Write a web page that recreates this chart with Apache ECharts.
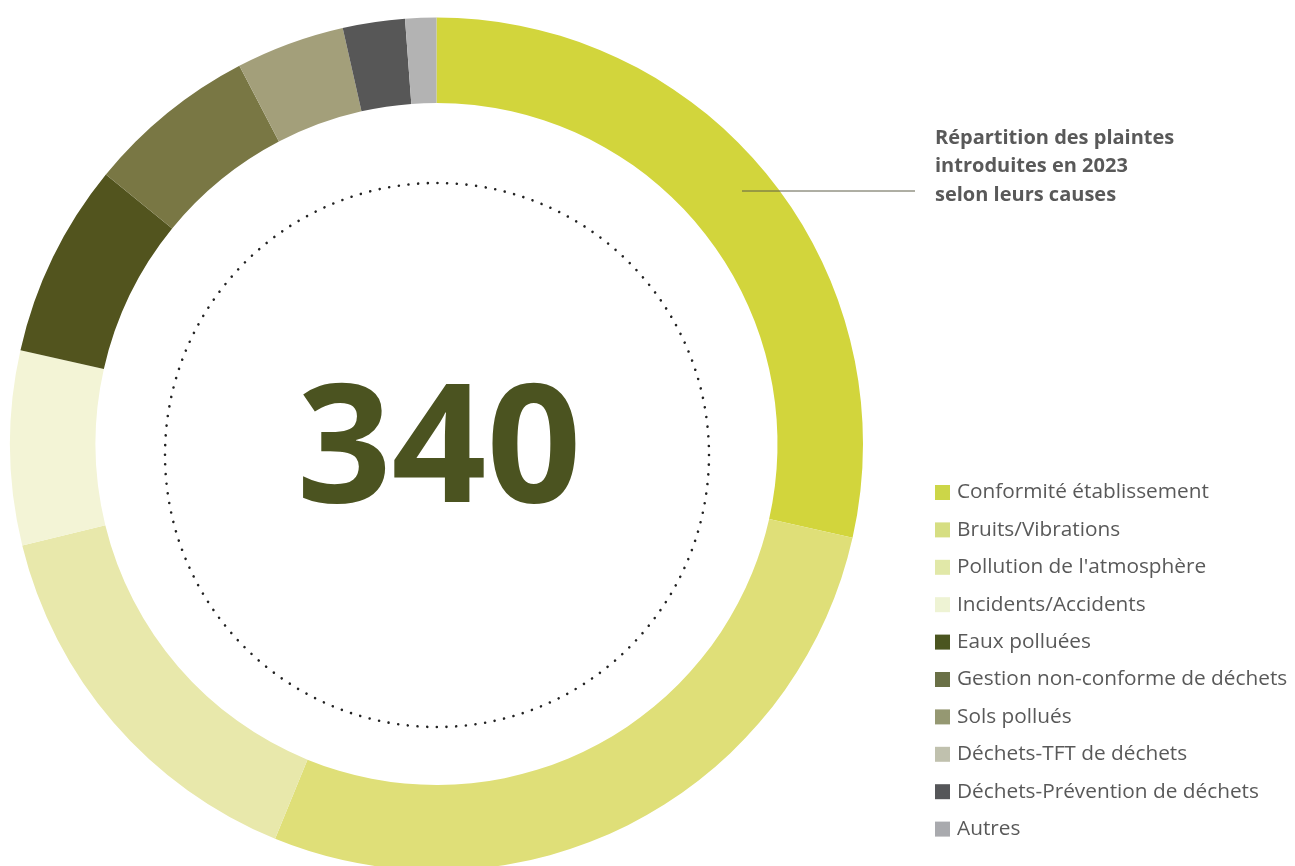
<!DOCTYPE html>
<html>
<head>
<meta charset="utf-8">
<script src="https://cdn.jsdelivr.net/npm/echarts@6/dist/echarts.min.js"></script>
<style>
  html, body { margin: 0; padding: 0; background: #fff; }
  #chart { width: 1295px; height: 866px; }
</style>
</head>
<body>
<div id="chart"></div>
<script>
// causes des plaintes 2023
const causes = [
  "Conformité établissement",
  "Bruits/Vibrations",
  "Pollution de l'atmosphère",
  "Incidents/Accidents",
  "Eaux polluées",
  "Gestion non-conforme de déchets",
  "Sols pollués",
  "Déchets-TFT de déchets",
  "Déchets-Prévention de déchets",
  "Autres",
];
const plaintes = [97, 94, 51, 25, 25, 22, 14, 0, 8, 4];
const total = 340;

// couleurs de l'anneau et de la légende (légèrement différentes dans l'original)
const ringColors = ["#d2d53c", "#dfdf78", "#e8e8ab", "#f3f4d6", "#52541e", "#797744", "#a39f7a", "#c0c1ae", "#575757", "#b3b3b3"];
const legendColors = ["#ccd648", "#d6de82", "#e1e8a8", "#eef3d4", "#4b5520", "#6a7046", "#959872", "#c0c1ae", "#555659", "#a9aaae"];

const chart = echarts.init(document.getElementById("chart"));

chart.setOption({
  animation: false,
  title: {
    text: "Répartition des plaintes\nintroduites en 2023\nselon leurs causes",
    left: 935,
    top: 124,
    padding: 0,
    textStyle: {
      fontFamily: "Open Sans",
      fontSize: 20,
      fontWeight: "bold",
      color: "#595959",
      lineHeight: 28.5,
    },
  },
  legend: {
    orient: "vertical",
    left: 935,
    top: 482,
    padding: 0,
    icon: "rect",
    itemWidth: 15,
    itemHeight: 15,
    itemGap: 16.4,
    selectedMode: false,
    textStyle: {
      fontFamily: "Open Sans",
      fontSize: 20.8,
      lineHeight: 20,
      color: "#595959",
      padding: [0, 0, 0, 2],
    },
    data: causes.map((name, i) => ({
      name: name,
      itemStyle: { color: legendColors[i] },
    })),
  },
  graphic: [
    {
      type: "circle",
      shape: { cx: 437, cy: 455, r: 272 },
      style: {
        fill: "none",
        stroke: "#222",
        lineWidth: 2.6,
        lineCap: "round",
        lineDash: [0.01, 9.7],
      },
      silent: true,
    },
    {
      type: "text",
      x: 439,
      y: 455,
      style: {
        text: String(total),
        fontFamily: "Open Sans",
        fontWeight: "bold",
        fontSize: 166,
        fill: "#4b5320",
        align: "center",
        verticalAlign: "middle",
      },
      silent: true,
    },
    {
      type: "line",
      z: 100,
      shape: { x1: 742, y1: 191, x2: 915, y2: 191 },
      style: { stroke: "#5e5e48", lineWidth: 1 },
      silent: true,
    },
  ],
  series: [
    {
      name: "Plaintes",
      type: "pie",
      center: [436.5, 444],
      radius: [341, 426.5],
      startAngle: 90,
      clockwise: true,
      label: { show: false },
      labelLine: { show: false },
      emphasis: { disabled: true },
      data: causes.map((name, i) => ({
        name: name,
        value: plaintes[i],
        itemStyle: { color: ringColors[i] },
      })),
    },
  ],
});
</script>
</body>
</html>
